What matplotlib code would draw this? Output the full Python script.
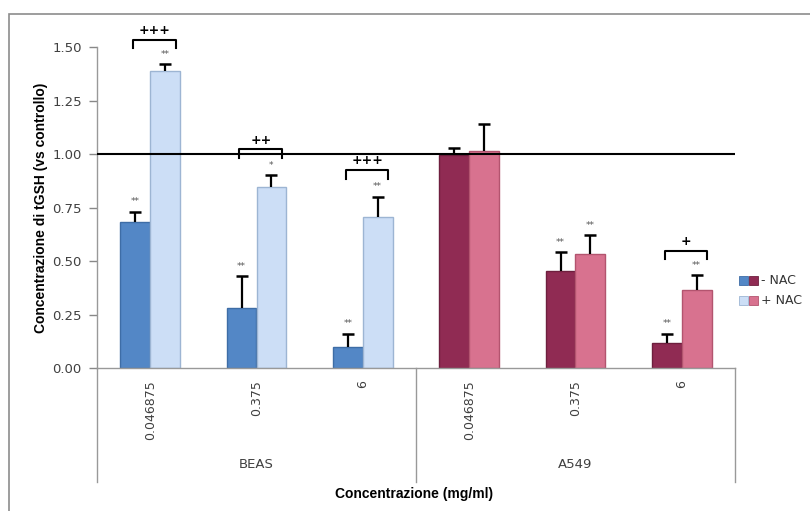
import matplotlib
matplotlib.use("Agg")
import matplotlib.pyplot as plt
from matplotlib.patches import Rectangle
from matplotlib.transforms import blended_transform_factory

# Data
cell_lines = ["BEAS", "A549"]
concentrations = ["0.046875", "0.375", "6"]
minus_nac = [0.68, 0.28, 0.10, 0.995, 0.455, 0.115]
minus_nac_err = [0.05, 0.15, 0.06, 0.035, 0.085, 0.045]
plus_nac = [1.39, 0.845, 0.705, 1.015, 0.535, 0.365]
plus_nac_err = [0.03, 0.055, 0.095, 0.125, 0.085, 0.07]
minus_stars = ["**", "**", "**", "", "**", "**"]
plus_stars = ["**", "*", "**", "", "**", "**"]
# significance brackets between -NAC and +NAC: (group index, label, bracket top)
brackets = [(0, "+++", 1.533), (1, "++", 1.022), (2, "+++", 0.925), (5, "+", 0.548)]

dark_cols = ["#5387C6"] * 3 + ["#902B53"] * 3
light_cols = ["#CCDEF6"] * 3 + ["#D8728F"] * 3
dark_edges = ["#3E6DA6"] * 3 + ["#6E1F3E"] * 3
light_edges = ["#9DB5D3"] * 3 + ["#B3546F"] * 3

fig = plt.figure(figsize=(8.10, 5.11), dpi=100)
ax = fig.add_axes([97 / 810, 1 - 368 / 511, (735 - 97) / 810, (368 - 47) / 511])

x = list(range(6))
w = 0.28
xd = [i - w / 2 for i in x]
xl = [i + w / 2 for i in x]

ax.bar(xd, minus_nac, width=w, color=dark_cols, edgecolor=dark_edges, linewidth=1.0, zorder=2)
ax.bar(xl, plus_nac, width=w, color=light_cols, edgecolor=light_edges, linewidth=1.0, zorder=2)

# upper error bars: stem plus a cap at the top only
for xs, vals, errs in [(xd, minus_nac, minus_nac_err), (xl, plus_nac, plus_nac_err)]:
    ax.errorbar(xs, vals, yerr=[[0] * 6, errs], fmt="none", ecolor="black",
                elinewidth=1.6, capsize=0, zorder=3)
    ax.plot(xs, [v + e for v, e in zip(vals, errs)], ls="none", marker="_", ms=8,
            mew=1.8, color="black", zorder=3)

for i in x:
    if minus_stars[i]:
        ax.text(xd[i], minus_nac[i] + minus_nac_err[i] + 0.025, minus_stars[i], ha="center",
                va="bottom", fontsize=6.5, color="#555555")
    if plus_stars[i]:
        ax.text(xl[i], plus_nac[i] + plus_nac_err[i] + 0.025, plus_stars[i], ha="center",
                va="bottom", fontsize=6.5, color="#555555")

# reference line at control level
ax.axhline(1.0, color="black", lw=1.5, zorder=4)

# significance brackets
for g, lab, top in brackets:
    x0, x1 = g - 0.16, g + 0.24
    ax.plot([x0, x0, x1, x1], [top - 0.04, top, top, top - 0.04], color="black",
            lw=1.5, clip_on=False, zorder=5)
    ax.text((x0 + x1) / 2, top + 0.012, lab, ha="center", va="bottom", fontsize=9,
            fontweight="bold", color="black", clip_on=False)

ax.set_xlim(-0.5, 5.5)
ax.set_ylim(0, 1.5)
ax.set_yticks([0, 0.25, 0.5, 0.75, 1.0, 1.25, 1.5])
ax.set_yticklabels(["%.2f" % v for v in [0, 0.25, 0.5, 0.75, 1.0, 1.25, 1.5]])
ax.tick_params(axis="y", labelsize=9.5, labelcolor="#404040", color="#888888",
               length=6, width=1, direction="out", pad=5)
ax.set_xticks(x)
ax.set_xticklabels(concentrations * 2, rotation=90, va="top", fontsize=9, color="#404040")
ax.tick_params(axis="x", length=0, pad=9)

for s in ["top", "right"]:
    ax.spines[s].set_visible(False)
for s in ["left", "bottom"]:
    ax.spines[s].set_color("#999999")
    ax.spines[s].set_linewidth(1.0)

ax.set_ylabel("Concentrazione di tGSH (vs controllo)", fontsize=10, fontweight="bold",
              family="Liberation Sans", labelpad=8)
ax.yaxis.set_label_coords(-0.077, 0.5)

# group separators and cell-line labels below the axis
tr = blended_transform_factory(ax.transData, ax.transAxes)
for xs in [-0.5, 2.5, 5.5]:
    ax.plot([xs, xs], [0, -0.355], color="#999999", lw=1.0, transform=tr, clip_on=False)
for gi, name in enumerate(cell_lines):
    ax.text(gi * 3 + 1, -0.302, name, transform=tr, ha="center", va="center",
            fontsize=9.5, color="#404040")

fig.text(414 / 810, 1 - 494 / 511, "Concentrazione (mg/ml)", ha="center", va="center",
         fontsize=10, fontweight="bold", family="Liberation Sans")

# legend
leg_rows = [("- NAC", dark_cols[0], dark_cols[3], dark_edges[0], dark_edges[3], 280),
            ("+ NAC", light_cols[0], light_cols[3], light_edges[0], light_edges[3], 300)]
for lab, c1, c2, e1, e2, yp in leg_rows:
    for k, (c, e) in enumerate([(c1, e1), (c2, e2)]):
        fig.patches.append(Rectangle(((739 + k * 10) / 810, 1 - (yp + 5) / 511), 9 / 810, 9 / 511,
                                     facecolor=c, edgecolor=e, lw=0.6,
                                     transform=fig.transFigure))
    fig.text(761 / 810, 1 - yp / 511, lab, ha="left", va="center", fontsize=9, color="#333333")

# outer chart frame
fig.patches.append(Rectangle((9 / 810, -0.05), 1.2, 1 - 14 / 511 + 0.05, fill=False,
                             edgecolor="#8C8C8C", lw=1.2, transform=fig.transFigure))

fig.savefig("out.png", dpi=100, facecolor="white")
